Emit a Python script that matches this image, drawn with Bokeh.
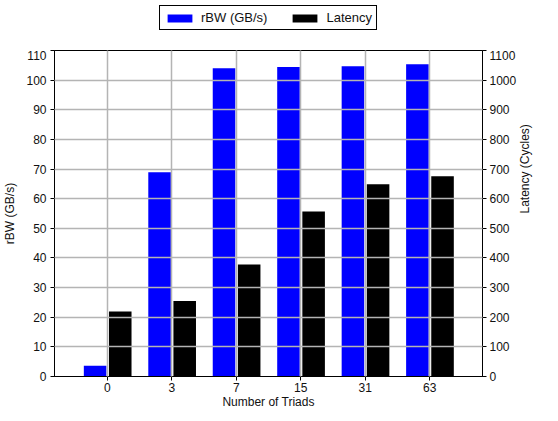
import math
from bokeh.plotting import figure
from bokeh.layouts import column
from bokeh.models import (FactorRange, Range1d, LinearAxis, FixedTicker, Legend,
                          LegendItem, ColumnDataSource)
from bokeh.transform import dodge
from bokeh.embed import file_html
from bokeh.resources import INLINE

categories = ["0", "3", "7", "15", "31", "63"]
rbw = [3.6, 68.9, 104.0, 104.4, 104.7, 105.4]
latency = [219, 255, 378, 557, 649, 676]
left_ticks = list(range(0, 111, 10))
right_ticks = list(range(0, 1101, 100))
series_labels = ["rBW (GB/s)", "Latency"]
series_colors = ["#0000ff", "#000000"]

FONT = "Liberation Sans"
GRID = "#b4b4b4"

src = ColumnDataSource(dict(cat=categories, rbw=rbw, lat=latency))

# ---- legend strip (separate small figure above the chart) ----
lp = figure(width=542, height=50, output_backend="svg", toolbar_location=None,
            x_axis_location=None, y_axis_location=None,
            x_range=FactorRange(*categories), y_range=Range1d(-2, -1),
            min_border_left=0, min_border_right=0, min_border_top=0,
            min_border_bottom=0)
lp.outline_line_color = None
lp.grid.visible = False
lr = [lp.vbar(x="cat", top=col, width=0.35, source=src, fill_color=c,
              line_color=None, visible=False)
      for col, c in zip(["rbw", "lat"], series_colors)]
legend = Legend(items=[LegendItem(label=l, renderers=[r])
                       for l, r in zip(series_labels, lr)],
                orientation="horizontal", location="top_center")
legend.border_line_color = "black"
legend.border_line_width = 1
legend.border_line_alpha = 1
legend.background_fill_color = "white"
legend.background_fill_alpha = 1
legend.inactive_fill_alpha = 0
legend.padding = 4
legend.spacing = 22
legend.label_standoff = 6
legend.glyph_width = 31
legend.glyph_height = 10
legend.label_height = 14
legend.label_text_font = FONT
legend.label_text_font_size = "13px"
legend.label_text_color = "#111111"
legend.margin = 5
lp.add_layout(legend, "center")

# ---- main chart ----
p = figure(width=542, height=361, output_backend="svg",
           toolbar_location=None,
           x_range=FactorRange(*categories, range_padding=0.32,
                               range_padding_units="absolute"),
           y_range=Range1d(0, 110),
           min_border_left=46, min_border_right=30, min_border_top=0,
           min_border_bottom=20)
p.extra_y_ranges = {"lat": Range1d(0, 1100)}

r1 = p.vbar(x=dodge("cat", -0.19, range=p.x_range), top="rbw", width=0.35,
            source=src, fill_color=series_colors[0], line_color=None)
r2 = p.vbar(x=dodge("cat", 0.20, range=p.x_range), top="lat", width=0.35,
            source=src, fill_color=series_colors[1], line_color=None,
            y_range_name="lat")

p.outline_line_color = "black"
p.outline_line_alpha = 1
p.outline_line_width = 1

p.yaxis.ticker = FixedTicker(ticks=left_ticks)
p.yaxis.axis_label = "rBW (GB/s)"
p.xaxis.axis_label = "Number of Triads"

ax_r = LinearAxis(y_range_name="lat", ticker=FixedTicker(ticks=right_ticks),
                  axis_label="Latency (Cycles)")
p.add_layout(ax_r, "right")

for ax in [p.xaxis[0], p.yaxis[0], ax_r]:
    ax.axis_line_color = "black"
    ax.axis_line_width = 1
    ax.major_tick_line_color = "black"
    ax.major_tick_in = 0
    ax.major_tick_out = 4
    ax.minor_tick_line_color = None
    ax.major_label_text_font = FONT
    ax.major_label_text_font_size = "12px"
    ax.major_label_text_color = "#111111"
    ax.major_label_standoff = 4
    ax.axis_label_text_font = FONT
    ax.axis_label_text_font_size = "12px"
    ax.axis_label_text_font_style = "normal"
    ax.axis_label_text_color = "#111111"
    ax.axis_label_standoff = 1

for ax in [p.xaxis[0], ax_r]:
    ax.major_label_text_line_height = 0.9
    ax.axis_label_text_line_height = 0.9

p.yaxis[0].axis_label_standoff = 6
p.xaxis[0].major_label_standoff = 2
p.xaxis[0].axis_label_standoff = 0
ax_r.major_label_standoff = 3
ax_r.axis_label_standoff = 6
try:
    ax_r.axis_label_orientation = math.pi / 2
except Exception as e:
    print("orientation not supported", e)

p.xgrid.grid_line_color = GRID
p.ygrid.grid_line_color = GRID
p.xgrid.grid_line_width = 1.5
p.ygrid.grid_line_width = 1.5
p.xgrid.level = "guide"
p.ygrid.level = "guide"

layout = column(lp, p, spacing=0)
open("out.html", "w").write(file_html(layout, INLINE))
